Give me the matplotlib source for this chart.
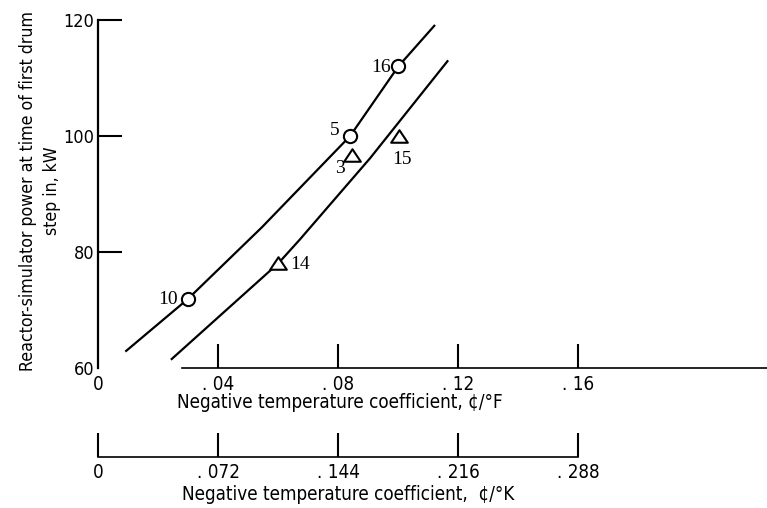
import matplotlib
matplotlib.use('Agg')
import matplotlib.pyplot as plt
from matplotlib.path import Path

plt.rcParams['font.family'] = ['DejaVu Sans']
plt.rcParams['font.stretch'] = 'condensed'

# curves (coefficient in cents/deg F, power in kW)
upper_x = [0.0093, 0.0298, 0.0546, 0.0840, 0.1001, 0.1121]
upper_y = [63.0, 71.9, 84.3, 100.0, 112.0, 119.0]
lower_x = [0.0245, 0.0601, 0.0671, 0.0907, 0.1165]
lower_y = [61.6, 78.1, 82.1, 96.2, 112.9]

# runs
circle_runs = ['10', '5', '16']
circle_x = [0.0298, 0.0840, 0.1001]
circle_y = [71.9, 100.0, 112.0]
tri_runs = ['14', '3', '15']
tri_x = [0.0601, 0.0846, 0.1003]
tri_y = [78.1, 96.7, 100.0]

f_ticks = [0, 0.04, 0.08, 0.12, 0.16]
f_labels = ['0', '. 04', '. 08', '. 12', '. 16']
k_ticks = [0, 0.072, 0.144, 0.216, 0.288]
k_labels = ['0', '. 072', '. 144', '. 216', '. 288']
y_ticks = [60, 80, 100, 120]

fig = plt.figure(figsize=(7.67, 5.08), dpi=100)
left = 98.3 / 767
xmax = (767 - 98.3) / 2997

ax = fig.add_axes([left, (508 - 368.3) / 508, 1 - left, (368.3 - 20) / 508])
ax.set_xlim(0, xmax)
ax.set_ylim(60, 120)
ax.patch.set_visible(False)
for s in ['top', 'right']:
    ax.spines[s].set_visible(False)
ax.spines['left'].set_linewidth(1.6)
ax.spines['bottom'].set_linewidth(1.2)
ax.spines['bottom'].set_bounds(0.028, xmax)

ax.set_xticks(f_ticks)
ax.set_xticklabels(f_labels)
ax.set_yticks(y_ticks)
ax.set_yticklabels([str(v) for v in y_ticks])
ax.tick_params(axis='both', direction='in', length=17, width=1.5)
ax.tick_params(axis='x', pad=4.5, labelsize=13.5)
ax.tick_params(axis='y', pad=3, labelsize=13)
ax.xaxis.get_major_ticks()[0].tick1line.set_visible(False)
ax.yaxis.get_major_ticks()[0].tick1line.set_visible(False)

ax.set_xlabel('Negative temperature coefficient, \u00a2/\u00b0F', fontsize=13.5)
ax.xaxis.set_label_coords(0.361, -0.097)
ax.xaxis.label.set_va('center')
ax.set_ylabel('Reactor-simulator power at time of first drum\nstep in, kW',
              fontsize=12.7, multialignment='center', linespacing=1.4)
ax.yaxis.set_label_coords(-0.056, 0.51)

ax.plot(upper_x, upper_y, color='black', lw=1.6, zorder=2)
ax.plot(lower_x, lower_y, color='black', lw=1.6, zorder=2)

tri = Path([(-1, -0.75), (1, -0.75), (0, 0.75), (-1, -0.75)],
           [Path.MOVETO, Path.LINETO, Path.LINETO, Path.CLOSEPOLY])
ax.plot(circle_x, circle_y, 'o', ms=9.5, mfc='white', mec='black', mew=1.5,
        ls='none', zorder=3)
ax.plot(tri_x, tri_y, marker=tri, ms=12, mfc='white', mec='black', mew=1.5,
        ls='none', zorder=3)

# run numbers
offsets = {'10': (-14, 0), '5': (-11.4, 4.3), '16': (-12.6, -0.6),
           '14': (15.3, -0.7), '3': (-8.4, -9.5), '15': (1.9, -16.7)}
for name, x, y in zip(circle_runs + tri_runs, circle_x + tri_x, circle_y + tri_y):
    ax.annotate(name, (x, y), xytext=offsets[name], textcoords='offset points',
                ha='center', va='center', fontsize=14, family='Liberation Serif')

# second scale in cents/deg K
ax2 = fig.add_axes([left, (508 - 457) / 508, 1 - left, 0.01])
ax2.set_xlim(0, xmax * 1.8)
ax2.patch.set_visible(False)
for s in ['top', 'right', 'left']:
    ax2.spines[s].set_visible(False)
ax2.spines['bottom'].set_linewidth(1.2)
ax2.spines['bottom'].set_bounds(0, 0.288)
ax2.set_yticks([])
ax2.set_xticks(k_ticks)
ax2.set_xticklabels(k_labels)
ax2.tick_params(axis='x', direction='in', length=17, width=1.5, labelsize=13.5, pad=4.5)
ax2.set_xlabel('Negative temperature coefficient,  \u00a2/\u00b0K', fontsize=13.5)
ax2.xaxis.set_label_coords(0.373, -7.4)
ax2.xaxis.label.set_va('center')

fig.savefig('out.png', dpi=100)
